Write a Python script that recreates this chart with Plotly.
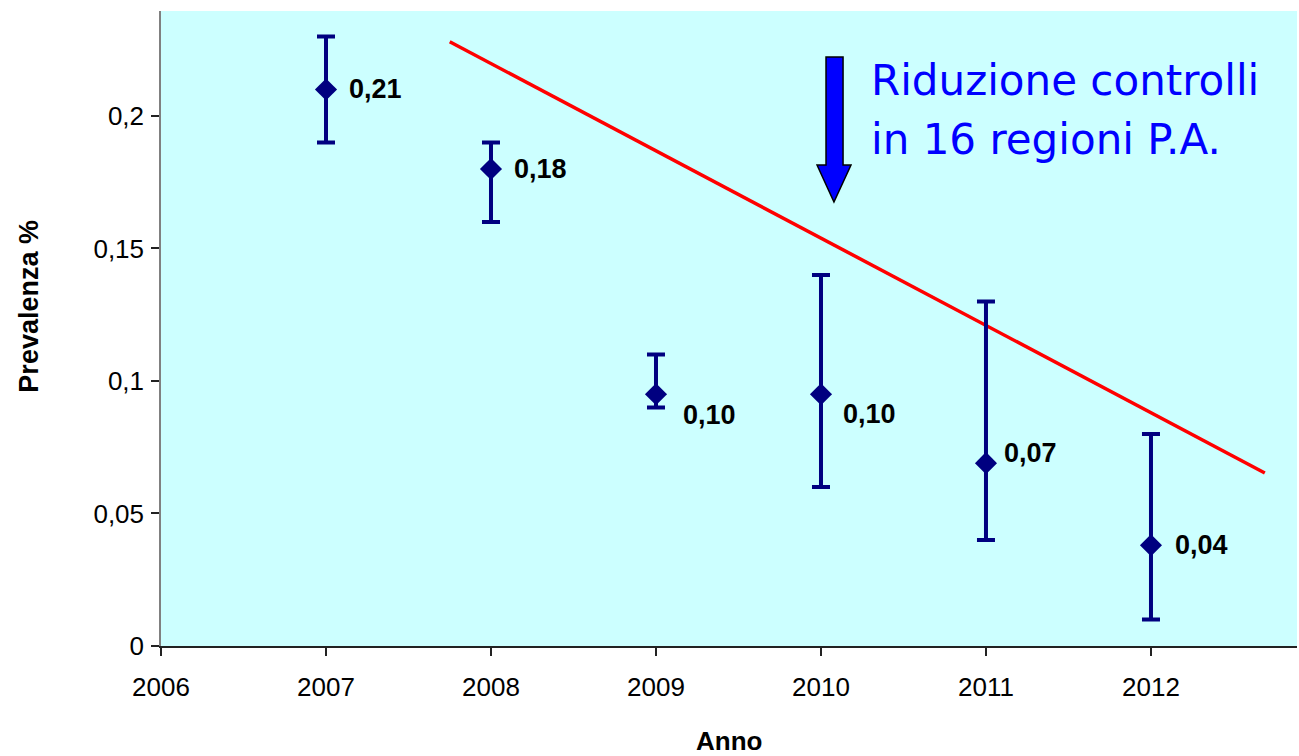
import plotly.graph_objects as go

# ---- data ----
years = [2007, 2008, 2009, 2010, 2011, 2012]
prevalenza = [0.21, 0.18, 0.095, 0.095, 0.069, 0.038]
upper = [0.23, 0.19, 0.11, 0.14, 0.13, 0.08]
lower = [0.19, 0.16, 0.09, 0.06, 0.04, 0.01]
value_labels = ["0,21", "0,18", "0,10", "0,10", "0,07", "0,04"]

trend_x = [2007.75, 2012.69]
trend_y = [0.228, 0.0653]

x_ticks = [2006, 2007, 2008, 2009, 2010, 2011, 2012]
y_ticks = [0, 0.05, 0.1, 0.15, 0.2]
y_tick_text = ["0", "0,05", "0,1", "0,15", "0,2"]

# ---- styling ----
label_dx = [22, 22, 26, 21, 17, 23]
label_dy = [0, 0, 21, 20, -10, 0]
NAVY = "#000080"
BG = "#ccffff"
FONT = "Liberation Sans, Arial, sans-serif"

err_plus = [u - v for u, v in zip(upper, prevalenza)]
err_minus = [v - l for v, l in zip(prevalenza, lower)]

fig = go.Figure()

fig.add_trace(go.Scatter(
    x=trend_x, y=trend_y, mode="lines",
    line=dict(color="#ff0000", width=3.5),
    showlegend=False, hoverinfo="skip",
))

fig.add_trace(go.Scatter(
    x=years, y=prevalenza, mode="markers",
    marker=dict(symbol="diamond", size=17, color=NAVY),
    error_y=dict(type="data", symmetric=False, array=err_plus,
                 arrayminus=err_minus, color=NAVY, thickness=4, width=9),
    showlegend=False,
))

annotations = []
for x, y, t, dx, dy in zip(years, prevalenza, value_labels, label_dx, label_dy):
    annotations.append(dict(
        x=x, y=y, xref="x", yref="y", text="<b>%s</b>" % t,
        showarrow=False, xanchor="left", yanchor="middle",
        xshift=dx - 1, yshift=-dy,
        font=dict(family=FONT, size=27, color="black"),
    ))

# Axis titles
annotations.append(dict(
    x=-0.1162, y=0.536, xref="paper", yref="paper", text="<b>Prevalenza %</b>",
    textangle=-90, showarrow=False, xanchor="center", yanchor="middle",
    font=dict(family=FONT, size=27, color="black"),
))
annotations.append(dict(
    x=0.5, y=-0.1496, xref="paper", yref="paper", text="<b>Anno</b>",
    showarrow=False, xanchor="center", yanchor="middle",
    font=dict(family=FONT, size=26, color="black"),
))

# Blue text
annotations.append(dict(
    x=0.6235, y=0.8898, xref="paper", yref="paper", text="Riduzione controlli",
    showarrow=False, xanchor="left", yanchor="middle",
    font=dict(family="DejaVu Sans, Verdana, sans-serif", size=42, color="#0000ff"),
))
annotations.append(dict(
    x=0.6235, y=0.7984, xref="paper", yref="paper", text="in 16 regioni P.A.",
    showarrow=False, xanchor="left", yanchor="middle",
    font=dict(family="DejaVu Sans, Verdana, sans-serif", size=42, color="#0000ff"),
))

arrow_path = ("M 0.5854,0.9276 L 0.6004,0.9276 L 0.6004,0.7575 L 0.6074,0.7575 "
              "L 0.5924,0.6992 L 0.5775,0.7575 L 0.5854,0.7575 Z")
shapes = [dict(type="path", xref="paper", yref="paper", path=arrow_path,
               fillcolor="#0000ff", line=dict(color="black", width=1.5))]

fig.update_layout(
    width=1299, height=756,
    margin=dict(l=161, r=2, t=11, b=110),
    paper_bgcolor="white", plot_bgcolor=BG,
    separators=",.",
    annotations=annotations, shapes=shapes,
    xaxis=dict(
        range=[2006, 2012.885], tickvals=x_ticks,
        ticktext=[str(v) for v in x_ticks],
        showgrid=False, zeroline=False,
        showline=True, linecolor="#222222", linewidth=1.5,
        ticks="outside", ticklen=8, tickcolor="#222222", tickwidth=1.5,
        tickfont=dict(family=FONT, size=26, color="black"),
        ticklabelstandoff=9,
    ),
    yaxis=dict(
        range=[0, 0.2396], tickvals=y_ticks, ticktext=y_tick_text,
        showgrid=False, zeroline=False,
        showline=True, linecolor="#808080", linewidth=1.5,
        ticks="outside", ticklen=8, tickcolor="#222222", tickwidth=1.5,
        tickfont=dict(family=FONT, size=26, color="black"),
        ticklabelstandoff=2,
    ),
)

fig.write_html(
    "out.html",
    config={"displayModeBar": False},
    post_script="document.body.style.margin='0';document.body.style.overflow='hidden';",
)
